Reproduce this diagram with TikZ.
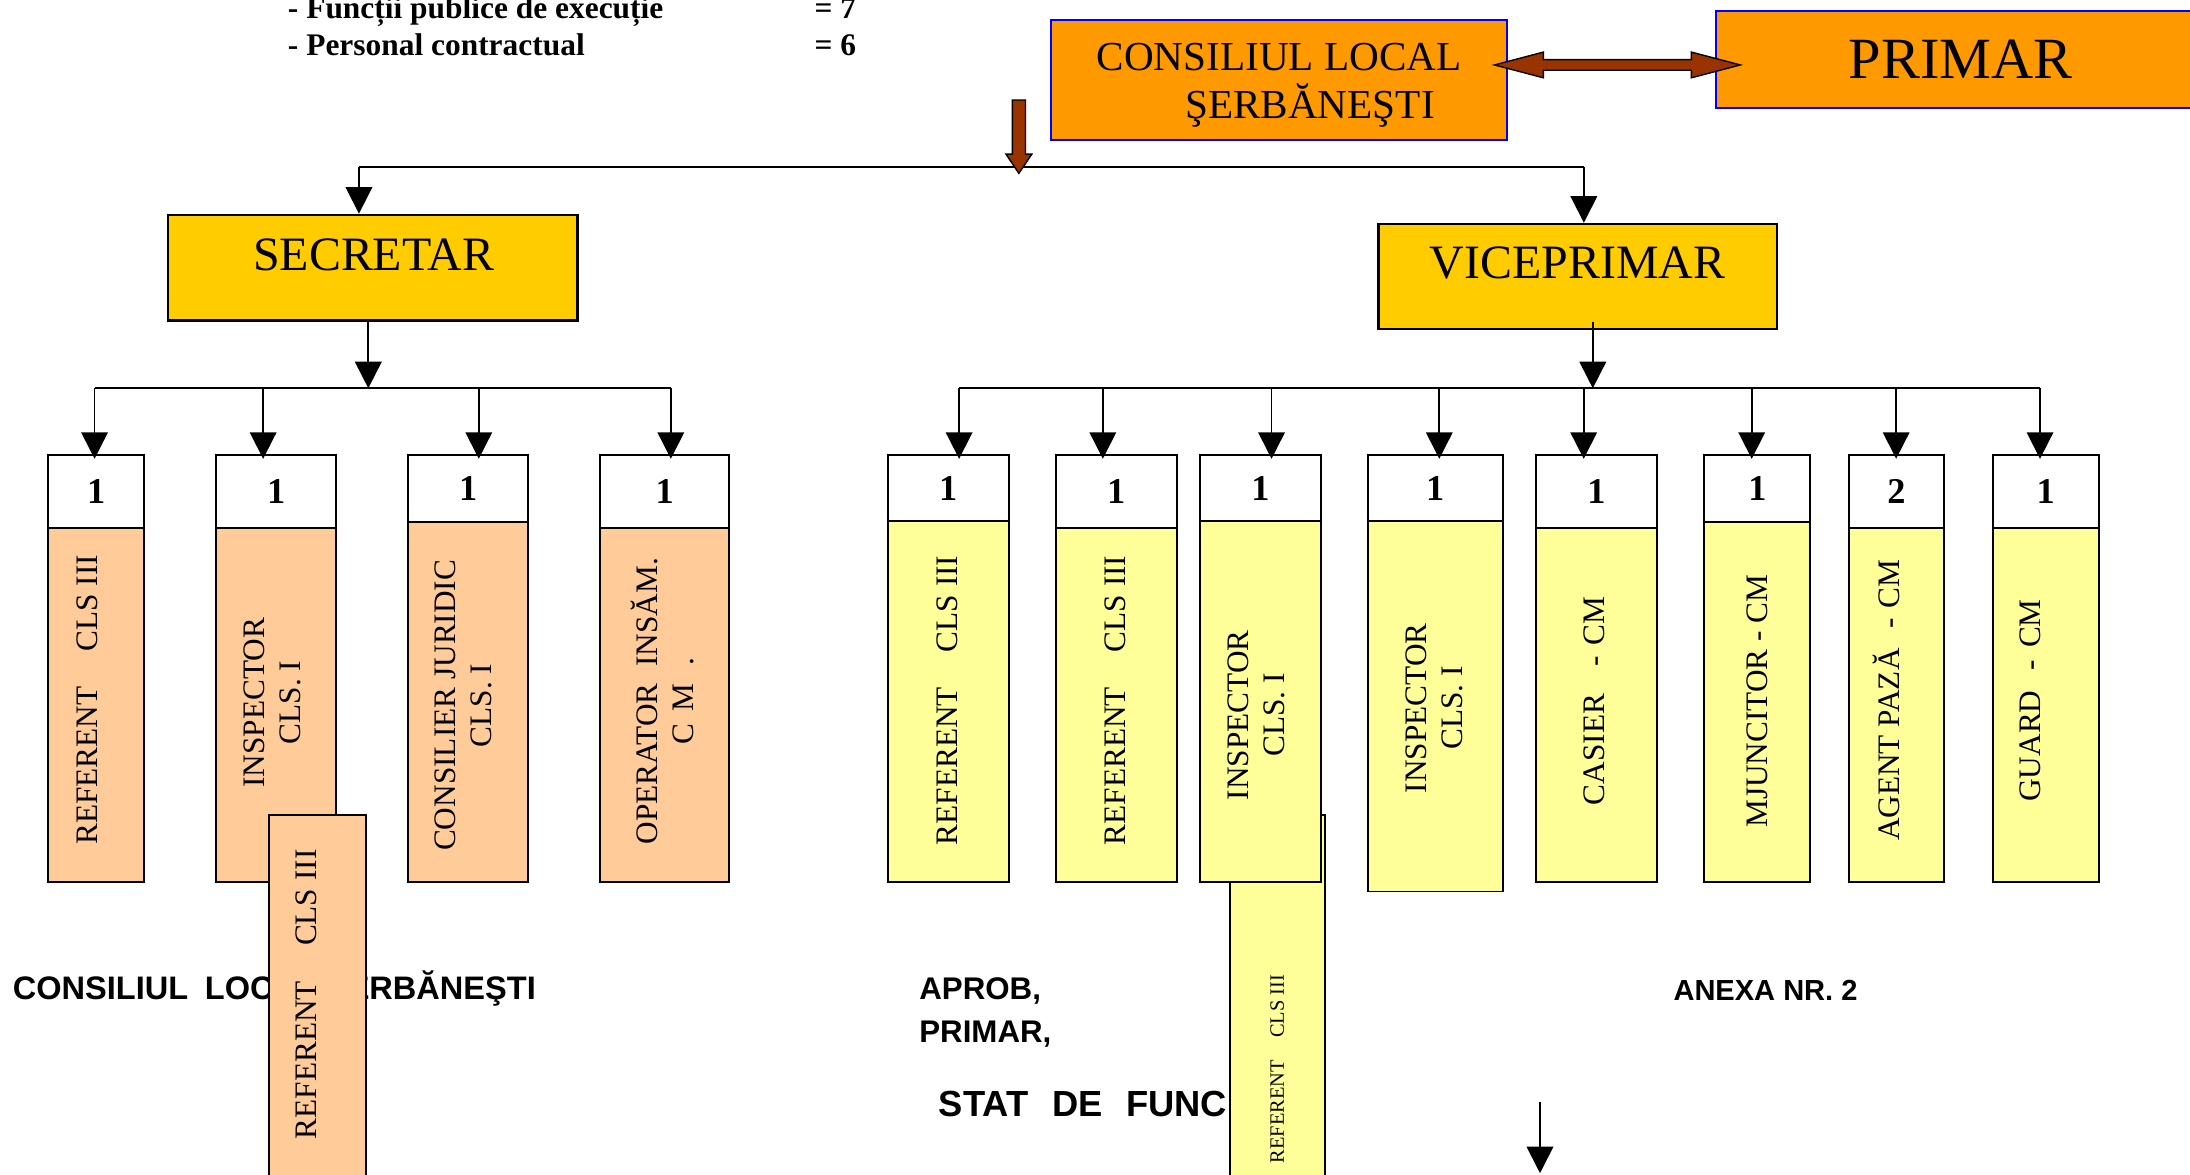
\documentclass[tikz,border=0pt]{standalone}
\usepackage{fontspec}
\setmainfont{Liberation Serif}
\setsansfont{Liberation Sans}
\usetikzlibrary{arrows.meta,calc}

\definecolor{orangebox}{HTML}{FF9900}
\definecolor{goldbox}{HTML}{FFCC00}
\definecolor{peachbox}{HTML}{FFCC99}
\definecolor{lemonbox}{HTML}{FFFF99}
\definecolor{rust}{HTML}{993300}

\begin{document}
\begin{tikzpicture}[x=1pt,y=1pt,yscale=-1,
    wire/.style={line width=1.3pt},
    tipline/.style={line width=1.3pt,-{Triangle[width=19pt,length=19pt]}},
    blockarrow/.style={fill=rust,draw=black,line width=1pt,line join=miter},
    boss/.style={draw=blue,line width=1.4pt,fill=orangebox,inner sep=0,anchor=north west},
    chief/.style={draw=black,line width=1.8pt,fill=goldbox,inner sep=0,anchor=north west},
    hdr/.style={draw=black,line width=1.4pt,fill=white,inner sep=0,anchor=north west,font=\bfseries\fontsize{26}{30}\selectfont},
    post/.style={draw=black,line width=1.4pt,inner sep=0,anchor=north west},
    vtext/.style={rotate=90,align=center,inner sep=0,font=\fontsize{22.4}{26}\selectfont},
    note/.style={anchor=base west,inner sep=0,font=\bfseries\fontsize{22.5}{26}\selectfont},
    caption/.style={anchor=base west,inner sep=0,font=\sffamily\bfseries\fontsize{22.4}{27}\selectfont}]

    %Frame
    \useasboundingbox (0,0) rectangle (1568,841);
    \clip (0,0) rectangle (1568,841);
    \fill[white] (0,0) rectangle (1568,841);

    % Text Node
    \node[note] (n1) at (206,13.4) {- Funcții publice de execuție};
    \node[note] (n1v) at (583,13.4) {= 7};
    \node[note] (n2) at (206,39.4) {- Personal contractual};
    \node[note] (n2v) at (583,39.4) {= 6};

    % Text Node
    \node[caption,font=\sffamily\bfseries\fontsize{23.3}{27}\selectfont] (cl) at (9,715.5) {CONSILIUL\hspace{12pt}LOCAL ŞERBĂNEŞTI};
    \node[caption] (aprob) at (658,715.5) {APROB,};
    \node[caption] (prim) at (658,746.6) {PRIMAR,};
    \node[caption,font=\sffamily\bfseries\fontsize{26}{30}\selectfont] (stat) at (672,799.6) {STAT\hspace{17pt}DE\hspace{17pt}FUNC};
    \node[caption,font=\sffamily\bfseries\fontsize{20.8}{25}\selectfont] (anexa) at (1198,716) {ANEXA NR. 2};

    %Shape: Rectangle
    \node[boss,minimum width=326.6pt,minimum height=85.9pt] (cons) at (751.9,13.6) {};
    \node[align=center,inner sep=0,font=\fontsize{29.5}{34.5}\selectfont] (cons-t) at ($(cons.center)+(0,3.5)$) {CONSILIUL LOCAL\\\hspace*{44pt}ŞERBĂNEŞTI};
    \node[boss,minimum width=350pt,minimum height=69.2pt,font=\fontsize{41.8}{50}\selectfont] (primar) at (1228,7.2) {PRIMAR};

    %Shape: Double Arrow
    \coordinate (lnk) at (1070,46.5);
    \draw[blockarrow] (lnk) -- ++(35,-9.2) -- ++(0,5.4) -- ++(106,0) -- ++(0,-5.4) -- ++(35,9.2)
        -- ++(-35,9.2) -- ++(0,-5.4) -- ++(-106,0) -- ++(0,5.4) -- cycle;

    %Shape: Rectangle
    \node[chief,minimum width=292.9pt,minimum height=75.4pt] (sec) at (119.5,153) {};
    \node[anchor=base,inner sep=0,font=\fontsize{34.3}{40}\selectfont] (sec-t) at ($(sec.north)+(0.7,40.4)$) {SECRETAR};
    \node[chief,minimum width=285.4pt,minimum height=75.1pt] (vp) at (986,159.5) {};
    \node[anchor=base,inner sep=0,font=\fontsize{34.3}{40}\selectfont] (vp-t) at ($(vp.north)+(0,40.1)$) {VICEPRIMAR};

    %Lines
    \coordinate (busL) at (257,119.4);
    \coordinate (busR) at (1134,119.4);
    \draw[wire] (busL) -- (busR);
    \draw[tipline] (busL) -- (busL |- sec.north);
    \draw[tipline] (busR) -- (busR |- vp.north);

    %Shape: Down Arrow
    \coordinate (drop) at (729.5,124.1);
    \draw[blockarrow] (drop) -- ++(-9.3,-13.8) -- ++(4.6,0) -- ++(0,-38.7) -- ++(9.4,0) -- ++(0,38.7) -- ++(4.6,0) -- cycle;

    \coordinate (secbus) at (263.7,278);
    \draw[tipline] (secbus |- sec.south) -- (secbus);
    \coordinate (vpbus) at (1140.4,278);
    \draw[tipline] ($(vpbus |- vp.south)+(0,-6.2)$) -- (vpbus);

    %Shape: Rectangle (behind)
    \node[post,fill=lemonbox,minimum width=68.2pt,minimum height=270pt] (ryx) at (879.7,582.8) {};
    \node[vtext,font=\fontsize{14.6}{18}\selectfont] (ryx-t) at (914.5,765.5) {REFERENT\hspace{16pt}CLS III};

    %Columns
    \foreach \n/\l/\r/\hb/\b/\col/\num/\tx/\ty/\txt in {
        rc1/33.7/102.7/377/630.8/peachbox/1/62.5/501/{REFERENT\hspace{25pt}CLS III},
        ins1/154/240/377/630.8/peachbox/1/195/503/{INSPECTOR\\CLS. I},
        cj/291.5/377.5/372.8/630.8/peachbox/1/332/505/{CONSILIER JURIDIC\\CLS. I},
        op/429/521.5/377/630.8/peachbox/1/474.5/502/{OPERATOR\hspace{12pt}INSĂM.\\C\hspace{9pt}M\hspace{13pt}.},
        ry1/634.9/721.5/372.6/630.8/lemonbox/1/678/501.5/{REFERENT\hspace{25pt}CLS III},
        ry2/755.4/841.7/377.4/630.8/lemonbox/1/798.5/501.5/{REFERENT\hspace{25pt}CLS III},
        iy1/858.6/944.9/372.6/630.8/lemonbox/1/899.4/512/{INSPECTOR\\CLS. I},
        iy2/978.5/1075.3/372.6/637.6/lemonbox/1/1027.2/507/{INSPECTOR\\CLS. I},
        cas/1099.2/1185.5/377.4/630.8/lemonbox/1/1141.7/502/{CASIER\hspace{20pt}-\hspace{7pt}CM},
        mj/1219.6/1295.5/373.1/630.8/lemonbox/1/1258.3/502/{MJUNCITOR - CM},
        ag/1322.9/1391.3/377.4/630.8/lemonbox/2/1350.7/501.5/{AGENT PAZĂ\hspace{14pt}-\hspace{7pt}CM},
        gd/1426/1501.9/377.4/630.8/lemonbox/1/1453.7/501.5/{GUARD\hspace{14pt}-\hspace{9pt}CM}}{
        \node[hdr,minimum width={(\r-\l)*1pt},minimum height={(\hb-325)*1pt}] (\n-h) at (\l,325) {\num};
        \node[post,fill=\col,minimum width={(\r-\l)*1pt},minimum height={(\b-\hb)*1pt}] (\n-b) at (\l,\hb) {};
        \node[vtext] (\n-t) at (\tx,\ty) {\txt};
    }

    %Shape: Rectangle (in front)
    \node[post,fill=peachbox,minimum width=69.3pt,minimum height=270pt] (rcx) at (191.9,582.8) {};
    \node[vtext] (rcx-t) at (219.5,711.9) {REFERENT\hspace{25pt}CLS III};

    %Arrows to the posts
    \foreach \n/\x in {rc1/67.7,ins1/188.4,cj/342.8,op/480.3,ry1/686.7,ry2/789.6,iy1/910.4,iy2/1030.5,cas/1133.9,mj/1254.2,ag/1357.6,gd/1460.6}{
        \coordinate (\n-d) at (\x,278);
        \draw[tipline] (\n-d) -- ($(\n-d |- \n-h.north)+(0,3.5)$);
    }
    \draw[wire] (rc1-d) -- (op-d);
    \draw[wire] (ry1-d) -- (gd-d);

    %Arrow at the bottom
    \coordinate (tail) at (1102.6,788.8);
    \coordinate (head) at (1102.6,840);
    \draw[tipline] (tail) -- (head);
\end{tikzpicture}
\end{document}
